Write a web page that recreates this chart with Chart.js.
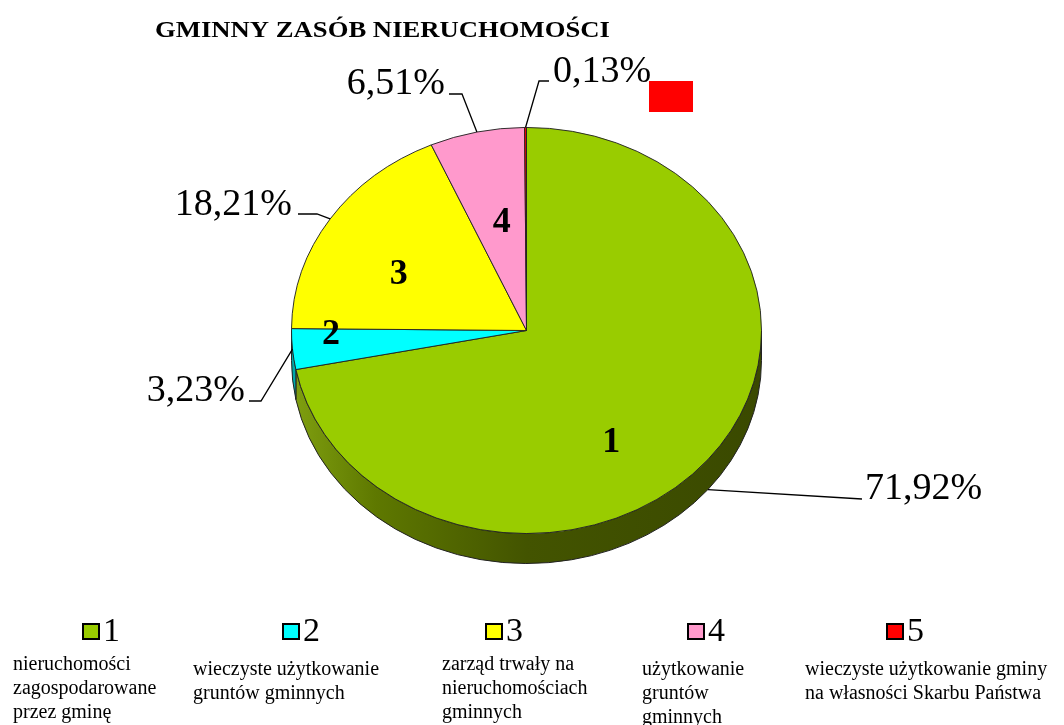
<!DOCTYPE html>
<html>
<head>
<meta charset="utf-8">
<script src="https://cdn.jsdelivr.net/npm/chart.js@4"></script>
<style>
  body { margin: 0; background: #fff; }
  #wrap { position: relative; width: 1064px; height: 725px; overflow: hidden; }
  #pie { position: absolute; left: 0; top: 0; }
  .lg-box { position: absolute; width: 18px; height: 17px; box-sizing: border-box; border: 2px solid #000; }
  .lg-num { position: absolute; font: 34px/34px "Liberation Serif", "Times New Roman", serif; color: #000; }
  .lg-txt { position: absolute; font: 20px/24px "Liberation Serif", "Times New Roman", serif; color: #000; white-space: nowrap; }
</style>
</head>
<body>
<div id="wrap">
  <canvas id="pie" width="1064" height="725"></canvas>
</div>
<script>
// ── Data ──
const categories = ['1', '2', '3', '4', '5'];
const shares     = [71.92, 3.23, 18.21, 6.51, 0.13];
const colors     = ['#99CC00', '#00FFFF', '#FFFF00', '#FF99CC', '#FF0000'];
const sideColors = ['#4a5e00', '#00a8a8', '#a8a800', '#a8607e', '#a80000'];
const descriptions = [
    ['nieruchomości', 'zagospodarowane', 'przez gminę'],
    ['wieczyste użytkowanie', 'gruntów gminnych'],
    ['zarząd trwały na', 'nieruchomościach', 'gminnych'],
    ['użytkowanie', 'gruntów', 'gminnych'],
    ['wieczyste użytkowanie gminy', 'na własności Skarbu Państwa']
];
const chartTitle = 'GMINNY ZASÓB NIERUCHOMOŚCI';

// ── Layout ──
const TILT  = 0.864;   // vertical squash of the pie face
const DEPTH = 30;      // thickness of the 3D side
const SERIF = '"Liberation Serif", "Times New Roman", serif';

// slice number label nudges (from 0.6 radius centroid)
const numOffsets = [[-24, 35], [-55, -7], [-10, 11], [5, 11], null];
// percent labels: text anchor, alignment and leader elbow
const pctLayout = [
    { x: 865, y: 499, align: 'left',  pts: [[862, 499]] },
    { x: 245, y: 401, align: 'right', pts: [[261, 401], [249, 401]] },
    { x: 292, y: 215, align: 'right', pts: [[317, 214], [298, 214]] },
    { x: 445, y: 94,  align: 'right', pts: [[462, 94], [449, 94]] },
    { x: 553, y: 82,  align: 'left',  pts: [[539, 81], [549, 81]] }
];
// legend placement
const lgBoxX   = [82, 282, 485, 687, 886];
const lgTextX  = [13, 193, 442, 642, 805];
const lgTextY  = [670, 675, 670, 675, 675];

function fmtPct(v) {
    return v.toFixed(2).replace('.', ',') + '%';
}

const pie3d = {
    id: 'pie3d',
    beforeDatasetsDraw(chart) {
        const ctx  = chart.ctx;
        const arcs = chart.getDatasetMeta(0).data;
        const cx = arcs[0].x, cy = arcs[0].y, r = arcs[0].outerRadius;
        const ry = r * TILT;

        // ── Side (front half only) ──
        arcs.forEach((a, i) => {
            const a0 = Math.max(a.startAngle, 0);
            const a1 = Math.min(a.endAngle, Math.PI);
            if (a1 <= a0) return;
            ctx.beginPath();
            ctx.ellipse(cx, cy, r, ry, 0, a0, a1);
            ctx.ellipse(cx, cy + DEPTH, r, ry, 0, a1, a0, true);
            ctx.closePath();
            if (i === 0) {
                const g = ctx.createLinearGradient(cx - r, 0, cx + r, 0);
                g.addColorStop(0, '#80a010');
                g.addColorStop(0.18, '#5e7800');
                g.addColorStop(0.5, '#435400');
                g.addColorStop(1, '#3a4900');
                ctx.fillStyle = g;
            } else {
                ctx.fillStyle = sideColors[i];
            }
            ctx.fill();
            ctx.lineWidth = 1;
            ctx.strokeStyle = '#222';
            ctx.stroke();
        });

        // squash the face drawn by the library
        ctx.save();
        ctx.translate(cx, cy);
        ctx.scale(1, TILT);
        ctx.translate(-cx, -cy);
    },
    afterDatasetsDraw(chart) {
        const ctx = chart.ctx;
        ctx.restore();

        const arcs = chart.getDatasetMeta(0).data;
        const cx = arcs[0].x, cy = arcs[0].y, r = arcs[0].outerRadius;
        const ry = r * TILT;

        // ── Title ──
        ctx.save();
        ctx.fillStyle = '#000';
        ctx.font = 'bold 24px ' + SERIF;
        ctx.textBaseline = 'alphabetic';
        ctx.textAlign = 'left';
        const tw = ctx.measureText(chartTitle).width;
        ctx.translate(155, 37);
        ctx.scale(455 / tw, 1);
        ctx.fillText(chartTitle, 0, 0);
        ctx.restore();

        // stray red legend key from the original
        ctx.fillStyle = '#FF0000';
        ctx.fillRect(649, 81, 44, 31);

        arcs.forEach((a, i) => {
            const mid = (a.startAngle + a.endAngle) / 2;

            // ── Slice numbers ──
            if (numOffsets[i]) {
                const nx = cx + r * 0.6 * Math.cos(mid) + numOffsets[i][0];
                const ny = cy + ry * 0.6 * Math.sin(mid) + numOffsets[i][1];
                ctx.fillStyle = '#000';
                ctx.font = 'bold 36px ' + SERIF;
                ctx.textAlign = 'center';
                ctx.textBaseline = 'middle';
                ctx.fillText(categories[i], nx, ny);
            }

            // ── Percent labels with leaders ──
            const L = pctLayout[i];
            let ex = cx + r * Math.cos(mid);
            let ey = cy + ry * Math.sin(mid);
            if (Math.sin(mid) > 0.5) ey += DEPTH;
            ctx.beginPath();
            ctx.moveTo(ex, ey);
            L.pts.forEach(p => ctx.lineTo(p[0], p[1]));
            ctx.lineWidth = 1.3;
            ctx.strokeStyle = '#000';
            ctx.stroke();

            ctx.fillStyle = '#000';
            ctx.font = '38px ' + SERIF;
            ctx.textAlign = L.align;
            ctx.textBaseline = 'alphabetic';
            ctx.fillText(fmtPct(shares[i]), L.x, L.y);
        });
    }
};

new Chart(document.getElementById('pie'), {
    type: 'pie',
    data: {
        labels: categories,
        datasets: [{
            data: shares,
            backgroundColor: colors,
            borderColor: '#222',
            borderWidth: 1
        }]
    },
    options: {
        responsive: false,
        animation: false,
        events: [],
        layout: { padding: { left: 291, right: 302, top: 95, bottom: 159 } },
        plugins: {
            legend: { display: false },
            tooltip: { enabled: false },
            title: { display: false }
        }
    },
    plugins: [pie3d]
});

// ── Legend ──
const wrap = document.getElementById('wrap');
categories.forEach((c, i) => {
    const box = document.createElement('div');
    box.className = 'lg-box';
    box.style.left = lgBoxX[i] + 'px';
    box.style.top = '623px';
    box.style.background = colors[i];
    wrap.appendChild(box);

    const num = document.createElement('div');
    num.className = 'lg-num';
    num.style.left = (lgBoxX[i] + 21) + 'px';
    num.style.top = '613px';
    num.textContent = c;
    wrap.appendChild(num);

    const txt = document.createElement('div');
    txt.className = 'lg-txt';
    txt.style.left = lgTextX[i] + 'px';
    txt.style.top = (lgTextY[i] - 19) + 'px';
    txt.innerHTML = descriptions[i].join('<br>');
    wrap.appendChild(txt);
});
</script>
</body>
</html>
